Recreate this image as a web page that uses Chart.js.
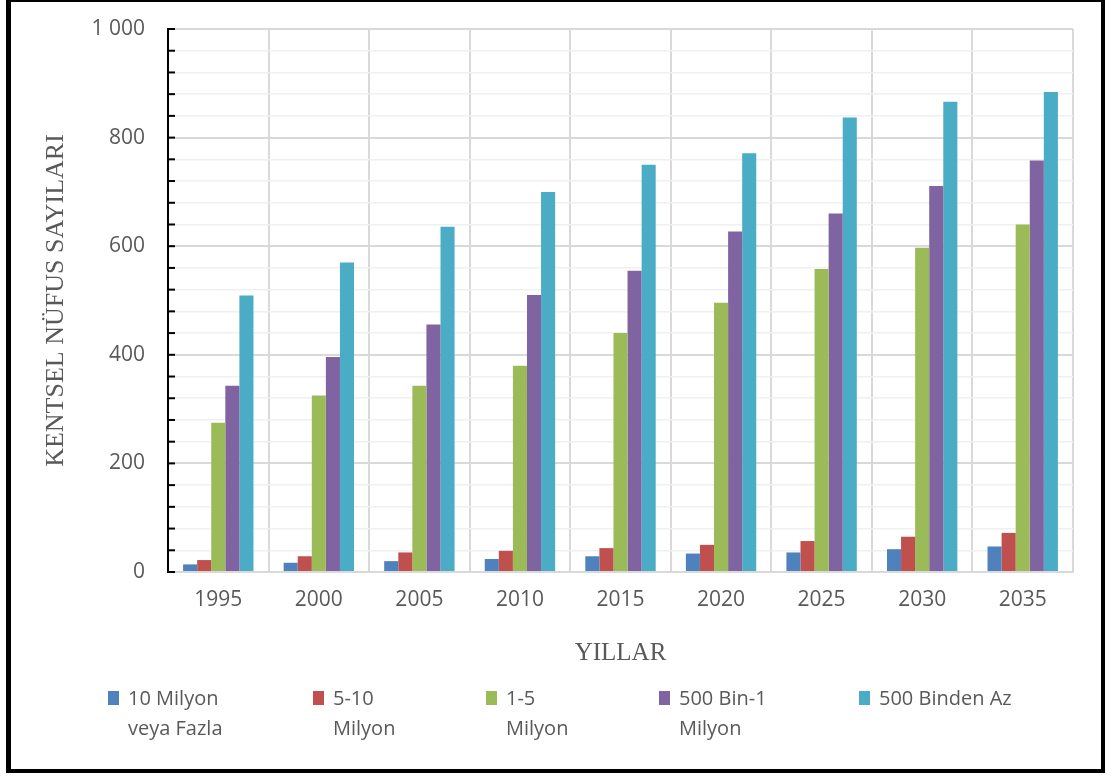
<!DOCTYPE html>
<html>
<head>
<meta charset="utf-8">
<script src="https://cdn.jsdelivr.net/npm/chart.js@4.4.0/dist/chart.umd.min.js"></script>
<style>
    html, body { margin: 0; padding: 0; background: #fff; }
    #wrap { position: relative; width: 1105px; height: 776px; overflow: hidden; }
    #grafico { position: absolute; left: 0; top: 0; }
    #moldura {
        position: absolute; left: 6px; top: 0; width: 1099px; height: 773px;
        box-sizing: border-box; pointer-events: none;
        border-left: 5px solid #000; border-top: 2px solid #000;
        border-right: 4px solid #000; border-bottom: 4px solid #000;
    }
    .item { position: absolute; top: 683px; font-family: "Open Sans", sans-serif; font-size: 20px;
            line-height: 30px; color: #595959; white-space: nowrap; }
    .item .cx { position: absolute; left: -20px; top: 8px; width: 11px; height: 14px; }
</style>
</head>
<body>
<div id="wrap">
    <canvas id="grafico" width="1105" height="776"></canvas>
    <div id="legenda"></div>
    <div id="moldura"></div>
</div>
<script>
// Dados
const anos = ['1995', '2000', '2005', '2010', '2015', '2020', '2025', '2030', '2035'];
const dezMilyon = [14, 17, 20, 24, 29, 34, 36, 42, 47];
const cincoDez = [22, 29, 36, 39, 44, 50, 57, 65, 72];
const umCinco = [275, 325, 343, 380, 440, 496, 558, 597, 640];
const binMilyon = [343, 396, 456, 510, 555, 627, 660, 711, 758];
const binAz = [509, 570, 636, 700, 750, 771, 837, 866, 884];

const series = ['10 Milyon veya Fazla', '5-10 Milyon', '1-5 Milyon', '500 Bin-1 Milyon', '500 Binden Az'];
const legendaLinhas = [['10 Milyon', 'veya Fazla'], ['5-10', 'Milyon'], ['1-5', 'Milyon'], ['500 Bin-1', 'Milyon'], ['500 Binden Az']];
const cores = ['#4f81bd', '#c0504d', '#9bbb59', '#8064a2', '#4bacc6'];

const cinza = '#595959';

// legenda em HTML (rótulos em duas linhas, como no original)
const posLegenda = [128, 333, 506, 679, 879];
const legenda = document.getElementById('legenda');
legendaLinhas.forEach((linhas, i) => {
    const el = document.createElement('div');
    el.className = 'item';
    el.style.left = posLegenda[i] + 'px';
    el.innerHTML = `<span class="cx" style="background:${cores[i]}"></span>` + linhas.join('<br>');
    legenda.appendChild(el);
});

// marcas pretas para dentro do eixo Y
const marcasY = {
    id: 'marcasY',
    afterDraw(chart) {
        const { ctx, chartArea } = chart;
        const y = chart.scales.y;
        ctx.save();
        ctx.strokeStyle = '#000';
        ctx.lineWidth = 2;
        y.ticks.forEach(t => {
            const py = y.getPixelForValue(t.value);
            ctx.beginPath();
            ctx.moveTo(chartArea.left - 1, py);
            ctx.lineTo(chartArea.left + 7, py);
            ctx.stroke();
        });
        ctx.restore();
    },
};

const valores = [dezMilyon, cincoDez, umCinco, binMilyon, binAz];

new Chart(document.getElementById('grafico').getContext('2d'), {
    type: 'bar',
    data: {
        labels: anos,
        datasets: series.map((nome, i) => ({
            label: nome,
            data: valores[i],
            backgroundColor: cores[i],
            borderWidth: 0,
            categoryPercentage: 0.7,
            barPercentage: 1.0,
        })),
    },
    options: {
        responsive: false,
        animation: false,
        layout: { padding: { left: 26, top: 29, right: 32, bottom: 108 } },
        plugins: {
            legend: { display: false },
            tooltip: { enabled: false },
        },
        scales: {
            x: {
                grid: { color: '#d9d9d9', lineWidth: 2, drawTicks: false, offset: true },
                border: { color: '#d9d9d9', width: 2 },
                ticks: { color: cinza, font: { family: 'Open Sans', size: 21 }, padding: 15 },
                title: {
                    display: true,
                    text: 'YILLAR',
                    color: cinza,
                    font: { family: 'Liberation Serif', size: 25 },
                    padding: { top: 0, bottom: 0 },
                },
                afterFit(scale) {
                    scale.height = 96;
                    scale.paddingLeft = 0;
                    scale.paddingRight = 0;
                },
            },
            y: {
                min: 0,
                max: 1000,
                grid: {
                    drawTicks: false,
                    color: ctx => (ctx.tick && ctx.tick.value % 200 === 0 ? '#d9d9d9' : '#f0f0f0'),
                    lineWidth: ctx => (ctx.tick && ctx.tick.value % 200 === 0 ? 2 : 1.5),
                },
                border: { color: '#000', width: 2 },
                ticks: {
                    stepSize: 40,
                    autoSkip: false,
                    padding: 23,
                    color: cinza,
                    font: { family: 'Open Sans', size: 21 },
                    callback: v => (v % 200 === 0 ? (v >= 1000 ? '1 000' : String(v)) : ''),
                },
                title: {
                    display: true,
                    text: 'KENTSEL NÜFUS SAYILARI',
                    color: cinza,
                    font: { family: 'Liberation Serif', size: 26 },
                    padding: { top: 15, bottom: 0 },
                },
                afterFit(scale) {
                    scale.width = 142;
                    scale.paddingTop = 0;
                    scale.paddingBottom = 0;
                },
            },
        },
    },
    plugins: [marcasY],
});
</script>
</body>
</html>
